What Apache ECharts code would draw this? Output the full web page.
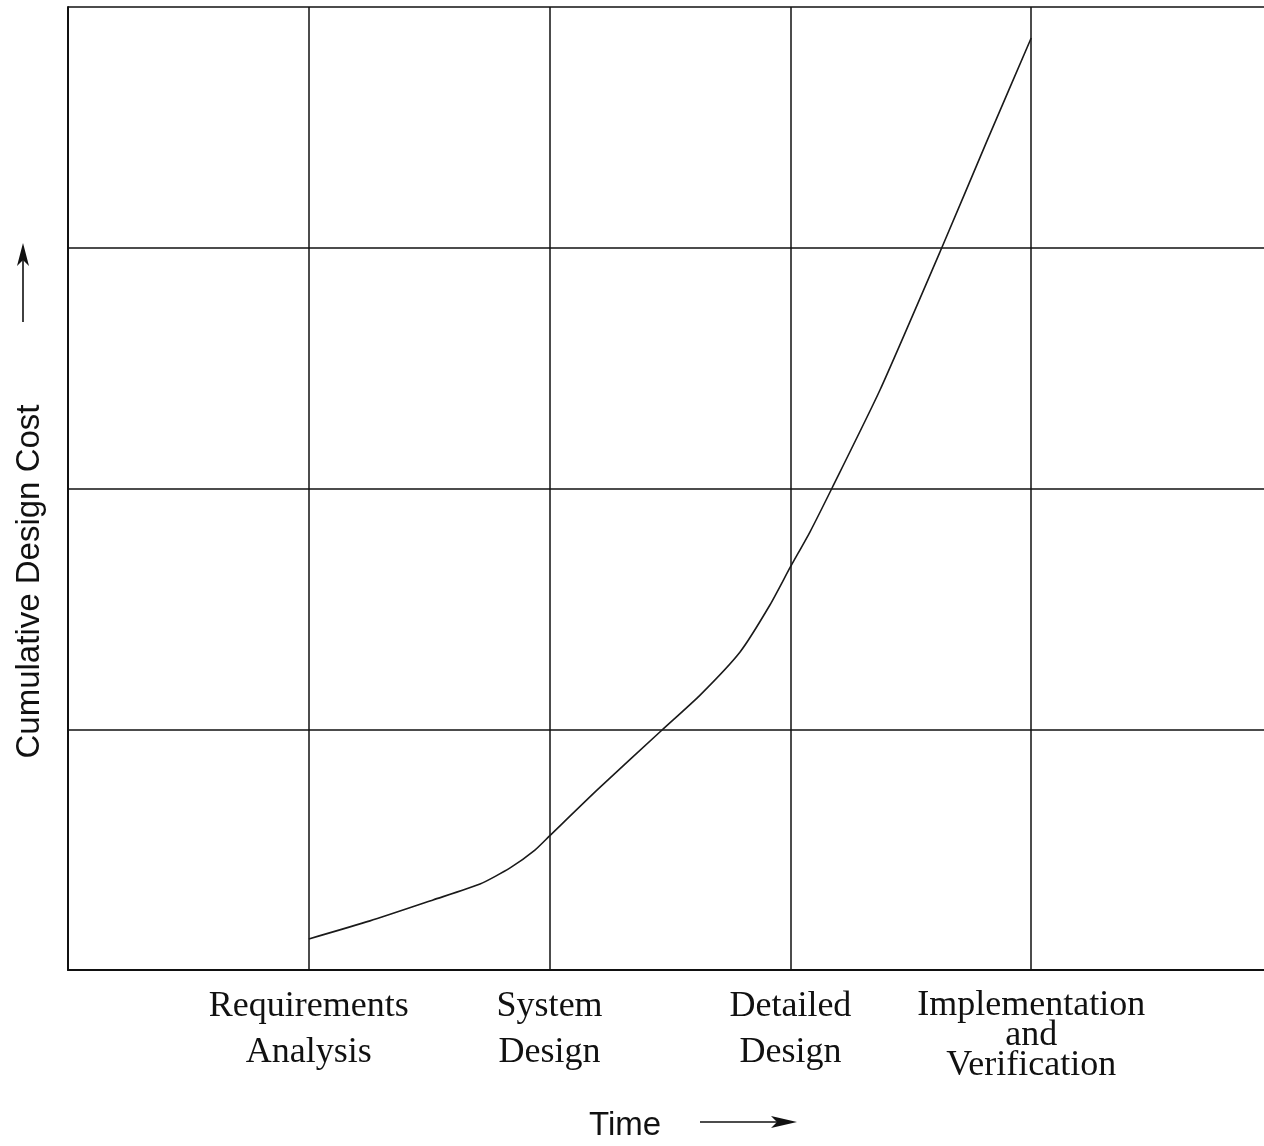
<!DOCTYPE html>
<html>
<head>
<meta charset="utf-8">
<script src="https://cdn.jsdelivr.net/npm/echarts@6/dist/echarts.min.js"></script>
<style>
html,body{margin:0;padding:0;background:#fff;}
#chart{width:1264px;height:1146px;}
</style>
</head>
<body>
<div id="chart"></div>
<script>
// Phase tick labels at x = 0..5
var phaseLabels = ['', 'Requirements\nAnalysis', 'System\nDesign', 'Detailed\nDesign', 'Implementation\nand\nVerification', ''];
// Curve (time in phase units, cumulative cost in grid units)
var timeValues = [1.0, 1.254, 1.516, 1.711, 1.836, 1.939, 2.0, 2.2, 2.467, 2.625, 2.791, 2.915, 3.0, 3.081, 3.173, 3.372, 3.63, 3.816, 4.0];
var costValues = [0.129, 0.204, 0.291, 0.357, 0.424, 0.498, 0.557, 0.75, 0.997, 1.142, 1.321, 1.516, 1.674, 1.819, 2.002, 2.409, 3.003, 3.443, 3.871];

var points = timeValues.map(function (t, i) { return [t, costValues[i]]; });

var chart = echarts.init(document.getElementById('chart'));
var serif = '"Liberation Serif", "Times New Roman", serif';
var sans = '"Liberation Sans", Arial, sans-serif';

chart.setOption({
  backgroundColor: '#fff',
  animation: false,
  grid: { left: 68, top: 7, right: -8, bottom: 176, containLabel: false, outerBoundsMode: 'none' },
  xAxis: [{
    type: 'value', min: 0, max: 5, interval: 1,
    axisLine: { show: true, lineStyle: { color: '#111', width: 2 } },
    axisTick: { show: false },
    splitLine: { show: true, lineStyle: { color: '#111', width: 1.5 } },
    axisLabel: {
      margin: 14, lineHeight: 46, fontSize: 36, fontFamily: serif, color: '#111',
      showMinLabel: true, showMaxLabel: true,
      formatter: function (v) { return (v >= 1 && v <= 3) ? phaseLabels[Math.round(v)] : ''; }
    },
    name: 'Time', nameLocation: 'middle', nameGap: 139,
    nameTextStyle: { fontSize: 33, fontFamily: sans, color: '#111', padding: [0, 90, 0, 0] }
  }, {
    type: 'value', min: 0, max: 5, interval: 1, position: 'bottom',
    axisLine: { show: false }, axisTick: { show: false }, splitLine: { show: false },
    axisLabel: {
      margin: 21, lineHeight: 30, fontSize: 36, fontFamily: serif, color: '#111',
      formatter: function (v) { return Math.round(v) === 4 ? phaseLabels[4] : ''; }
    }
  }],
  yAxis: {
    type: 'value', min: 0, max: 4, interval: 1,
    axisLine: { show: true, lineStyle: { color: '#111', width: 2 } },
    axisTick: { show: false },
    axisLabel: { show: false },
    splitLine: { show: true, lineStyle: { color: '#111', width: 1.5 } },
    name: 'Cumulative Design Cost', nameLocation: 'middle', nameGap: 22,
    nameTextStyle: { fontSize: 33, fontFamily: sans, color: '#111', padding: [0, 186, 0, 0] }
  },
  series: [{
    type: 'line', xAxisIndex: 0, data: points,
    showSymbol: false, smooth: 0.2,
    lineStyle: { color: '#1a1a1a', width: 1.6, join: 'round' }
  }],
  graphic: [
    { type: 'line', shape: { x1: 23, y1: 322, x2: 23, y2: 258 }, style: { stroke: '#111', lineWidth: 1.6 } },
    { type: 'polygon', shape: { points: [[23, 243], [29, 266], [23, 260], [17, 266]] }, style: { fill: '#111' } },
    { type: 'line', shape: { x1: 700, y1: 1122, x2: 778, y2: 1122 }, style: { stroke: '#111', lineWidth: 1.6 } },
    { type: 'polygon', shape: { points: [[797, 1122], [771, 1116], [777, 1122], [771, 1128]] }, style: { fill: '#111' } }
  ]
});
</script>
</body>
</html>
